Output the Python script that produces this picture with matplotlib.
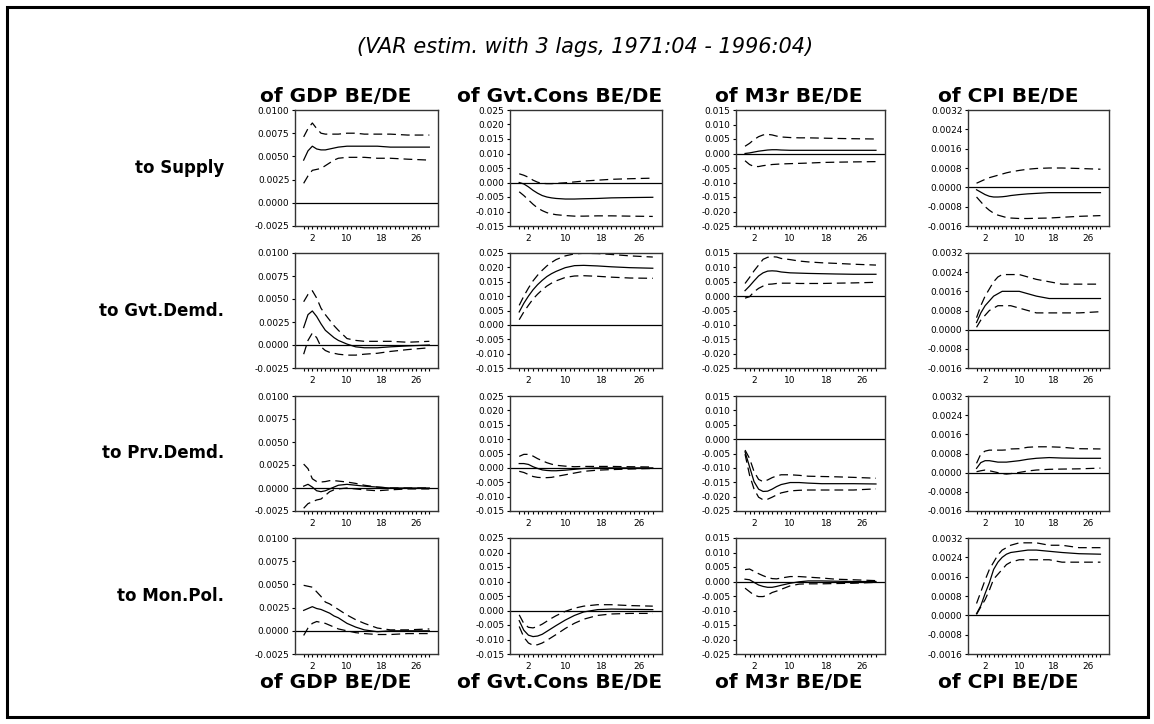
import numpy as np
import matplotlib
matplotlib.use("Agg")
import matplotlib.pyplot as plt
from matplotlib.patches import Rectangle
from matplotlib.ticker import FixedLocator, FormatStrFormatter

steps = [0, 1, 2, 3, 4, 5, 6, 7, 8, 10, 12, 14, 17, 20, 24, 29]

col_titles = ['of GDP BE/DE', 'of Gvt.Cons BE/DE', 'of M3r BE/DE', 'of CPI BE/DE']
row_titles = ['to Supply', 'to Gvt.Demd.', 'to Prv.Demd.', 'to Mon.Pol.']
title = '(VAR estim. with 3 lags, 1971:04 - 1996:04)'

# y axis per column: (min, max, step, format)
y_gdp = (-0.0025, 0.0100, 0.0025, '%.4f')
y_gov = (-0.015, 0.025, 0.005, '%.3f')
y_m3r = (-0.025, 0.015, 0.005, '%.3f')
y_cpi = (-0.0016, 0.0032, 0.0008, '%.4f')

# --- to Supply ---
sup_gdp_mid = [0.0046, 0.0056, 0.0061, 0.0058, 0.0057, 0.0057, 0.0058, 0.0059, 0.0060, 0.0061, 0.0061, 0.0061, 0.0061, 0.0060, 0.0060, 0.0060]
sup_gdp_hi = [0.0071, 0.0080, 0.0086, 0.0080, 0.0075, 0.0074, 0.0074, 0.0074, 0.0074, 0.0075, 0.0075, 0.0074, 0.0074, 0.0074, 0.0073, 0.0073]
sup_gdp_lo = [0.0021, 0.0029, 0.0035, 0.0036, 0.0037, 0.0040, 0.0043, 0.0046, 0.0048, 0.0049, 0.0049, 0.0049, 0.0048, 0.0048, 0.0047, 0.0046]

sup_gov_mid = [0.0000, -0.0005, -0.0015, -0.0027, -0.0037, -0.0045, -0.0050, -0.0053, -0.0055, -0.0057, -0.0057, -0.0056, -0.0055, -0.0053, -0.0052, -0.0051]
sup_gov_hi = [0.0030, 0.0025, 0.0018, 0.0008, 0.0001, -0.0003, -0.0004, -0.0004, -0.0003, -0.0001, 0.0002, 0.0005, 0.0008, 0.0011, 0.0013, 0.0015]
sup_gov_lo = [-0.0032, -0.0045, -0.0060, -0.0075, -0.0088, -0.0097, -0.0104, -0.0108, -0.0111, -0.0114, -0.0116, -0.0116, -0.0115, -0.0115, -0.0116, -0.0117]

sup_m3r_mid = [0.0000, 0.0002, 0.0005, 0.0008, 0.0010, 0.0012, 0.0013, 0.0013, 0.0012, 0.0011, 0.0011, 0.0011, 0.0011, 0.0011, 0.0011, 0.0011]
sup_m3r_hi = [0.0025, 0.0035, 0.0048, 0.0058, 0.0064, 0.0066, 0.0064, 0.0060, 0.0057, 0.0055, 0.0054, 0.0054, 0.0053, 0.0052, 0.0051, 0.0050]
sup_m3r_lo = [-0.0025, -0.0038, -0.0045, -0.0045, -0.0042, -0.0040, -0.0038, -0.0037, -0.0036, -0.0035, -0.0034, -0.0033, -0.0031, -0.0030, -0.0029, -0.0028]

sup_cpi_mid = [-0.00010, -0.00020, -0.00030, -0.00037, -0.00040, -0.00040, -0.00039, -0.00037, -0.00034, -0.00030, -0.00027, -0.00025, -0.00022, -0.00022, -0.00022, -0.00022]
sup_cpi_hi = [0.00017, 0.00025, 0.00033, 0.00040, 0.00045, 0.00050, 0.00055, 0.00060, 0.00064, 0.00070, 0.00075, 0.00078, 0.00080, 0.00080, 0.00078, 0.00075]
sup_cpi_lo = [-0.00040, -0.00060, -0.00080, -0.00095, -0.00107, -0.00115, -0.00120, -0.00125, -0.00127, -0.00129, -0.00129, -0.00128, -0.00127, -0.00124, -0.00120, -0.00117]

# --- to Gvt.Demd. ---
gd_gdp_mid = [0.0019, 0.0033, 0.0037, 0.0031, 0.0023, 0.0016, 0.0012, 0.0008, 0.0005, 0.0001, -0.0002, -0.0003, -0.0003, -0.0002, -0.0001, 0.0000]
gd_gdp_hi = [0.0047, 0.0055, 0.0059, 0.0051, 0.0040, 0.0033, 0.0027, 0.0021, 0.0016, 0.0007, 0.0005, 0.0004, 0.0004, 0.0004, 0.0003, 0.0004]
gd_gdp_lo = [-0.0010, 0.0005, 0.0013, 0.0008, -0.0002, -0.0006, -0.0008, -0.0009, -0.0010, -0.0011, -0.0011, -0.0010, -0.0009, -0.0007, -0.0005, -0.0003]

gd_gov_mid = [0.0045, 0.0075, 0.0100, 0.0122, 0.0140, 0.0155, 0.0168, 0.0178, 0.0186, 0.0199, 0.0206, 0.0207, 0.0205, 0.0202, 0.0199, 0.0197]
gd_gov_hi = [0.0068, 0.0100, 0.0128, 0.0153, 0.0173, 0.0190, 0.0205, 0.0217, 0.0227, 0.0240, 0.0247, 0.0249, 0.0248, 0.0245, 0.0240, 0.0236]
gd_gov_lo = [0.0018, 0.0045, 0.0068, 0.0090, 0.0107, 0.0122, 0.0135, 0.0145, 0.0153, 0.0165, 0.0170, 0.0171, 0.0169, 0.0166, 0.0163, 0.0162]

gd_m3r_mid = [0.0019, 0.0035, 0.0053, 0.0070, 0.0081, 0.0087, 0.0088, 0.0087, 0.0084, 0.0081, 0.0080, 0.0079, 0.0078, 0.0077, 0.0076, 0.0076]
gd_m3r_hi = [0.0044, 0.0065, 0.0088, 0.0108, 0.0128, 0.0135, 0.0137, 0.0136, 0.0131, 0.0127, 0.0122, 0.0119, 0.0116, 0.0114, 0.0111, 0.0108]
gd_m3r_lo = [-0.0007, -0.0002, 0.0015, 0.0027, 0.0035, 0.0041, 0.0042, 0.0044, 0.0045, 0.0045, 0.0044, 0.0044, 0.0044, 0.0045, 0.0046, 0.0048]

gd_cpi_mid = [0.0003, 0.0007, 0.0010, 0.0012, 0.0014, 0.0015, 0.0016, 0.0016, 0.0016, 0.0016, 0.0015, 0.0014, 0.0013, 0.0013, 0.0013, 0.0013]
gd_cpi_hi = [0.0005, 0.0010, 0.0014, 0.0017, 0.0020, 0.0022, 0.0023, 0.0023, 0.0023, 0.0023, 0.0022, 0.0021, 0.0020, 0.0019, 0.0019, 0.0019]
gd_cpi_lo = [0.0001, 0.0004, 0.0006, 0.0008, 0.0009, 0.0010, 0.0010, 0.0010, 0.0010, 0.0009, 0.0008, 0.0007, 0.0007, 0.0007, 0.0007, 0.00075]

# --- to Prv.Demd. ---
pd_gdp_mid = [0.0002, 0.0004, 0.0001, -0.0003, -0.0004, -0.0003, -0.0001, 0.0001, 0.0003, 0.0004, 0.0003, 0.0002, 0.0001, 0.0000, 0.0000, 0.0000]
pd_gdp_hi = [0.0026, 0.0021, 0.0010, 0.0007, 0.00065, 0.0007, 0.0008, 0.0008, 0.00075, 0.00065, 0.0005, 0.0003, 0.0001, 0.0000, 0.0000, 0.0000]
pd_gdp_lo = [-0.0022, -0.0017, -0.0015, -0.0013, -0.0012, -0.0008, -0.0004, -0.0002, -0.0001, 0.0000, -0.0001, -0.0002, -0.0003, -0.0002, -0.0001, -0.0001]

pd_gov_mid = [0.0015, 0.0015, 0.0012, 0.0004, -0.0002, -0.0007, -0.0009, -0.0010, -0.0010, -0.0008, -0.0005, -0.0002, 0.0000, 0.0000, 0.0000, 0.0000]
pd_gov_hi = [0.0040, 0.0047, 0.0047, 0.0041, 0.0032, 0.0025, 0.0018, 0.0013, 0.0009, 0.0006, 0.0004, 0.0005, 0.0005, 0.0005, 0.0004, 0.0003]
pd_gov_lo = [-0.0012, -0.0016, -0.0023, -0.0030, -0.0033, -0.0034, -0.0034, -0.0033, -0.0030, -0.0024, -0.0018, -0.0012, -0.0008, -0.0006, -0.0004, -0.0002]

pd_m3r_mid = [-0.0044, -0.0096, -0.0148, -0.0174, -0.0182, -0.0181, -0.0174, -0.0165, -0.0158, -0.0151, -0.0151, -0.0153, -0.0155, -0.0155, -0.0155, -0.0156]
pd_m3r_hi = [-0.0038, -0.0067, -0.0113, -0.0140, -0.0148, -0.0142, -0.0134, -0.0128, -0.0124, -0.0124, -0.0126, -0.0129, -0.0130, -0.0131, -0.0133, -0.0136]
pd_m3r_lo = [-0.0052, -0.0125, -0.0174, -0.0202, -0.0211, -0.0209, -0.0202, -0.0194, -0.0187, -0.0180, -0.0178, -0.0177, -0.0177, -0.0177, -0.0177, -0.0173]

pd_cpi_mid = [0.00018, 0.00042, 0.00050, 0.00050, 0.00047, 0.00044, 0.00044, 0.00044, 0.00046, 0.00050, 0.00056, 0.00060, 0.00063, 0.00061, 0.00060, 0.00060]
pd_cpi_hi = [0.00039, 0.00078, 0.00090, 0.00094, 0.00094, 0.00094, 0.00094, 0.00095, 0.00099, 0.00100, 0.00106, 0.00108, 0.00108, 0.00106, 0.00100, 0.00099]
pd_cpi_lo = [0.00004, 0.00008, 0.00011, 0.00008, 0.00004, 0.00000, -0.00004, -0.00006, -0.00004, 0.00001, 0.00007, 0.00011, 0.00014, 0.00015, 0.00016, 0.00019]

# --- to Mon.Pol. ---
mp_gdp_mid = [0.0022, 0.0024, 0.0026, 0.0024, 0.0023, 0.0021, 0.0019, 0.0016, 0.0014, 0.0008, 0.0004, 0.0001, -0.0001, 0.0000, 0.0000, 0.0000]
mp_gdp_hi = [0.0049, 0.0048, 0.0047, 0.0042, 0.0037, 0.0031, 0.0029, 0.0026, 0.0023, 0.0017, 0.0012, 0.0008, 0.0003, 0.0001, 0.0001, 0.0002]
mp_gdp_lo = [-0.0005, 0.0003, 0.0008, 0.0010, 0.0009, 0.0008, 0.0006, 0.0004, 0.0002, 0.0000, -0.0002, -0.0003, -0.0004, -0.0004, -0.0003, -0.0003]

mp_gov_mid = [-0.0035, -0.0068, -0.0085, -0.0090, -0.0088, -0.0082, -0.0072, -0.0062, -0.0052, -0.0033, -0.0017, -0.0005, 0.0003, 0.0005, 0.0004, 0.0003]
mp_gov_hi = [-0.0015, -0.0045, -0.0058, -0.0060, -0.0055, -0.0047, -0.0037, -0.0027, -0.0018, -0.0003, 0.0008, 0.0015, 0.0020, 0.0020, 0.0017, 0.0015]
mp_gov_lo = [-0.0055, -0.0092, -0.0112, -0.0120, -0.0118, -0.0112, -0.0103, -0.0093, -0.0083, -0.0062, -0.0044, -0.0030, -0.0017, -0.0012, -0.0010, -0.0010]

mp_m3r_mid = [0.0008, 0.0006, -0.0003, -0.0012, -0.0017, -0.0020, -0.0020, -0.0017, -0.0013, -0.0006, -0.0001, 0.0002, 0.0002, 0.0001, 0.0000, 0.0000]
mp_m3r_hi = [0.0041, 0.0043, 0.0035, 0.0027, 0.0020, 0.0014, 0.0010, 0.0009, 0.0012, 0.0017, 0.0017, 0.0015, 0.0012, 0.0008, 0.0006, 0.0003]
mp_m3r_lo = [-0.0023, -0.0035, -0.0047, -0.0052, -0.0052, -0.0047, -0.0038, -0.0033, -0.0027, -0.0015, -0.0009, -0.0008, -0.0008, -0.0007, -0.0006, -0.0003]

mp_cpi_mid = [0.00007, 0.00040, 0.00090, 0.00135, 0.00190, 0.00220, 0.00240, 0.00253, 0.00260, 0.00265, 0.00270, 0.00270, 0.00265, 0.00260, 0.00255, 0.00253]
mp_cpi_hi = [0.00049, 0.00097, 0.00146, 0.00190, 0.00220, 0.00250, 0.00270, 0.00280, 0.00290, 0.00300, 0.00300, 0.00300, 0.00290, 0.00290, 0.00280, 0.00280]
mp_cpi_lo = [0.00004, 0.00035, 0.00065, 0.00104, 0.00150, 0.00170, 0.00190, 0.00210, 0.00220, 0.00230, 0.00230, 0.00230, 0.00230, 0.00220, 0.00220, 0.00220]

panels = [
    [(sup_gdp_mid, sup_gdp_hi, sup_gdp_lo), (sup_gov_mid, sup_gov_hi, sup_gov_lo),
     (sup_m3r_mid, sup_m3r_hi, sup_m3r_lo), (sup_cpi_mid, sup_cpi_hi, sup_cpi_lo)],
    [(gd_gdp_mid, gd_gdp_hi, gd_gdp_lo), (gd_gov_mid, gd_gov_hi, gd_gov_lo),
     (gd_m3r_mid, gd_m3r_hi, gd_m3r_lo), (gd_cpi_mid, gd_cpi_hi, gd_cpi_lo)],
    [(pd_gdp_mid, pd_gdp_hi, pd_gdp_lo), (pd_gov_mid, pd_gov_hi, pd_gov_lo),
     (pd_m3r_mid, pd_m3r_hi, pd_m3r_lo), (pd_cpi_mid, pd_cpi_hi, pd_cpi_lo)],
    [(mp_gdp_mid, mp_gdp_hi, mp_gdp_lo), (mp_gov_mid, mp_gov_hi, mp_gov_lo),
     (mp_m3r_mid, mp_m3r_hi, mp_m3r_lo), (mp_cpi_mid, mp_cpi_hi, mp_cpi_lo)],
]
y_axes = [y_gdp, y_gov, y_m3r, y_cpi]

W, H = 1154, 724
fig = plt.figure(figsize=(W / 100, H / 100), dpi=100)
plt.rcParams['font.family'] = 'DejaVu Sans'

# panel boxes in pixels (left, right) and (top, bottom)
col_px = [(295, 438), (510, 662), (736, 885), (968, 1109)]
row_px = [(110, 226), (253, 368), (396, 511), (538, 654)]
# column headings sit over the whole panel incl. tick labels
col_title_x = [336, 560, 789, 1008]

# outer frame
fig.patches.append(Rectangle((7 / W, 1 - 717 / H), 1141 / W, 710 / H,
                             transform=fig.transFigure, fill=False,
                             edgecolor='black', linewidth=2.2))

fig.text(585 / W, 1 - 47 / H, title, ha='center', va='center',
         fontsize=15, style='italic')

x = np.array(steps)
for r in range(4):
    t, b = row_px[r]
    for c in range(4):
        l, rr = col_px[c]
        ax = fig.add_axes([l / W, 1 - b / H, (rr - l) / W, (b - t) / H])
        mid, hi, lo = panels[r][c]
        ymin, ymax, ystep, fmt = y_axes[c]
        ax.axhline(0, color='black', linewidth=0.9)
        ax.plot(x, mid, color='black', linewidth=0.9)
        ax.plot(x, hi, color='black', linewidth=0.9, dashes=(7, 4))
        ax.plot(x, lo, color='black', linewidth=0.9, dashes=(7, 4))
        ax.set_xlim(-2, 31)
        ax.set_ylim(ymin, ymax)
        ax.yaxis.set_major_locator(FixedLocator(np.arange(ymin, ymax + ystep / 2, ystep)))
        ax.yaxis.set_major_formatter(FormatStrFormatter(fmt))
        ax.set_xticks([2, 10, 18, 26])
        ax.set_xticks(np.arange(0, 30), minor=True)
        ax.tick_params(axis='both', which='both', direction='out', length=2.5,
                       width=0.8, labelsize=6.5, pad=1.5, colors='black')
        ax.tick_params(axis='x', which='major', pad=3)
        for s in ax.spines.values():
            s.set_color('#333333')
            s.set_linewidth(1.0)
    for_top = r == 0
    for_bottom = r == 3
    if for_top:
        for c in range(4):
            fig.text(col_title_x[c] / W, 1 - 97 / H, col_titles[c], ha='center',
                     va='center', fontsize=14.5, fontweight='bold')
    if for_bottom:
        for c in range(4):
            fig.text(col_title_x[c] / W, 1 - 682 / H, col_titles[c], ha='center',
                     va='center', fontsize=14.5, fontweight='bold')
    fig.text(224 / W, 1 - (t + b) / 2 / H, row_titles[r], ha='right',
             va='center', fontsize=12, fontweight='bold')

fig.savefig('out.png', dpi=100)
